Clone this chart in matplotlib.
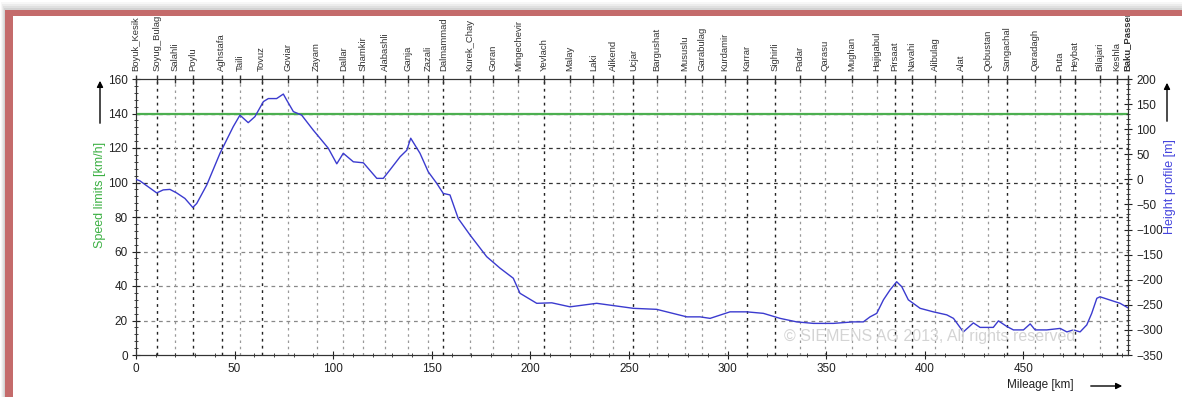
import matplotlib.pyplot as plt
from matplotlib.patches import Rectangle
from matplotlib.transforms import blended_transform_factory, Bbox, TransformedBbox
from matplotlib.ticker import MultipleLocator

plt.rcParams['font.family'] = ['Liberation Sans', 'DejaVu Sans']

# Stations along the line (km) and their names
station_km = [0, 10.5, 19.8, 28.8, 43.5, 52.7, 63.7, 77.2, 91.6, 105.1, 115.3, 126.3,
              138.1, 148.2, 155.8, 169.4, 181.2, 193.9, 206.9, 220.1, 231.9, 242.0,
              252.2, 264.0, 278.4, 286.9, 298.7, 309.7, 324.1, 336.7, 349.4, 362.9,
              375.6, 384.9, 393.4, 405.2, 418.7, 432.2, 441.5, 455.9, 468.6, 476.2,
              488.8, 497.3, 503.0]
station_names = ['Boyuk_Kesik', 'Soyug_Bulag', 'Salahli', 'Poylu', 'Aghstafa', 'Taili',
                 'Tovuz', 'Goviar', 'Zayam', 'Dallar', 'Shamkir', 'Alabashli', 'Ganja',
                 'Zazali', 'Dalmammad', 'Kurek_Chay', 'Goran', 'Mingechevir', 'Yevlach',
                 'Malay', 'Laki', 'Alikend', 'Ucjar', 'Bargushat', 'Mususlu', 'Garabulag',
                 'Kurdamir', 'Karrar', 'Sighirli', 'Padar', 'Qarasu', 'Mughan', 'Hajigabul',
                 'Pirsaat', 'Navahi', 'Alibulag', 'Alat', 'Qobustan', 'Sangachal',
                 'Qaradagh', 'Puta', 'Heybat', 'Bilajari', 'Keshla', 'Baku_Passenger']
# darker dotted line for the bigger stations
station_dark = [1, 1, 0, 1, 1, 0, 1, 0, 0, 0, 0, 0, 0, 0, 1, 0, 0, 0, 1, 0, 0, 0,
                1, 0, 0, 0, 0, 1, 1, 0, 0, 0, 0, 1, 1, 0, 0, 0, 1, 0, 0, 1, 0, 1, 1]

# Height profile (km, m)
profile_km = [0, 2, 10.5, 13.8, 17.2, 20.6, 24.8, 28.8, 30.8, 35.9, 42.6, 49.3, 52.7,
              56.9, 60.3, 64.6, 67.1, 71.3, 74.7, 76.4, 79.8, 84.0, 89.9, 93.3, 97.5,
              101.8, 105.1, 110.2, 115.3, 122.1, 125.4, 128.8, 133.9, 137.3, 139.3, 144.0,
              148.2, 152.5, 155.8, 159.2, 163.4, 169.4, 177.8, 184.6, 191.3, 194.7, 203.2,
              210.8, 220.1, 233.6, 252.2, 264.0, 279.3, 286.0, 291.1, 301.2, 309.7, 318.1,
              326.6, 335.0, 343.5, 353.6, 363.7, 368.8, 372.2, 375.6, 379.0, 382.4, 385.7,
              388.3, 391.6, 397.6, 404.3, 411.1, 414.5, 419.5, 424.6, 428.0, 434.7, 437.3,
              441.5, 444.9, 450.0, 453.4, 455.9, 461.8, 468.6, 472.0, 475.3, 478.7, 482.1,
              484.6, 487.2, 488.8, 499.0, 503.0]
profile_m = [0, -3, -27, -21, -20, -27, -38, -56, -48, -11, 52, 105, 128,
             113, 125, 155, 161, 161, 170, 158, 135, 128, 98, 82, 62,
             31, 52, 35, 33, 2, 2, 19, 45, 58, 82, 52,
             15, -8, -28, -31, -78, -111, -154, -177, -197, -227, -247,
             -246, -254, -247, -257, -259, -274, -274, -277, -264, -264, -267,
             -277, -284, -287, -287, -284, -284, -274, -267, -240, -220, -204,
             -214, -240, -257, -264, -270, -277, -304, -286, -295, -295, -282,
             -293, -300, -300, -288, -300, -300, -297, -304, -300, -304, -290,
             -267, -237, -234, -247, -256]

speed_km = [0, 503]
speed_limit = [140, 140]

W, H = 1182, 397
fig = plt.figure(figsize=(W / 100, H / 100), dpi=100)

def frect(x0, y0, w, h, **kw):
    # rectangle in pixel coordinates measured from the top-left corner
    fig.patches.append(Rectangle((x0 / W, 1 - (y0 + h) / H), w / W, h / H,
                                 transform=fig.transFigure, edgecolor='none', **kw))

# soft shadow behind the frame, then the red frame (top and left only are visible)
for i, a in enumerate([0.06, 0.08, 0.1, 0.12]):
    frect(1 + i, 2 + 2 * i, W, H, facecolor='#777777', alpha=a, zorder=-6)
frect(5, 10, W, H, facecolor='#c46b6b', zorder=-5)
frect(13, 16, W, H, facecolor='white', zorder=-4)

ax = fig.add_axes([136 / W, 1 - 355 / H, 992 / W, 276 / H])
ax.set_facecolor('none')
ax.set_xlim(0, 503)
ax.set_ylim(0, 160)

# grid
for y in range(20, 160, 20):
    ax.axhline(y, color='#333333' if y >= 80 else '#888888', lw=0.9, ls=(0, (3, 3)), zorder=1)
for km, d in zip(station_km[1:-1], station_dark[1:-1]):
    ax.axvline(km, color='#222222' if d else '#999999', lw=1.0 if d else 0.9,
               ls=(0, (2, 3)), zorder=1)

ax.plot(speed_km, speed_limit, color='#4caf50', lw=1.6, zorder=3)

ax2 = ax.twinx()
ax2.set_ylim(-350, 200)
ax2.plot(profile_km, profile_m, color='#3b3bcf', lw=1.0, zorder=4)

ax.set_xticks(range(0, 451, 50))
ax.xaxis.set_minor_locator(MultipleLocator(10))
ax.yaxis.set_major_locator(MultipleLocator(20))
ax.yaxis.set_minor_locator(MultipleLocator(4))
ax2.yaxis.set_major_locator(MultipleLocator(50))
ax2.yaxis.set_minor_locator(MultipleLocator(10))
for a in (ax, ax2):
    a.tick_params(which='major', direction='inout', length=6, width=0.8, labelsize=8.5,
                  colors='#222222', pad=3)
    a.tick_params(which='minor', direction='inout', length=3, width=0.6, colors='#222222')
    for s in a.spines.values():
        s.set_color('#333333')
        s.set_linewidth(0.8)

# station names above the chart, cut off by the frame
clip = TransformedBbox(Bbox([[0, 0], [1, 1 - 16 / H]]), fig.transFigure)
trans = blended_transform_factory(ax.transData, ax.transAxes)
for km, name in zip(station_km, station_names):
    t = ax.text(km, 1.03, name, transform=trans, rotation=90, ha='center', va='bottom',
                fontsize=6.8, color='#333333',
                fontweight='bold' if name == 'Baku_Passenger' else 'normal')
    t.set_clip_on(True)
    t.set_clip_box(clip)
ax.plot(station_km, [160] * len(station_km), ls='none', marker='|', ms=6, color='#333333',
        clip_on=False, zorder=5)

# axis titles and arrows
fig.text(100 / W, 1 - 195 / H, 'Speed limits [km/h]', rotation=90, ha='center', va='center',
         color='#3cb043', fontsize=9)
fig.text(1170 / W, 1 - 187 / H, 'Height profile [m]', rotation=90, ha='center', va='center',
         color='#4444dd', fontsize=9)
fig.text(1040 / W, 1 - 385 / H, 'Mileage [km]', ha='center', va='center', color='#222222',
         fontsize=8.5)
arrow = dict(arrowstyle='-|>', color='black', lw=1, mutation_scale=9)
ax.annotate('', xy=(100 / W, 1 - 78 / H), xytext=(100 / W, 1 - 126 / H),
            xycoords='figure fraction', arrowprops=arrow)
ax.annotate('', xy=(1167 / W, 1 - 80 / H), xytext=(1167 / W, 1 - 124 / H),
            xycoords='figure fraction', arrowprops=arrow)
ax.annotate('', xy=(1125 / W, 1 - 386 / H), xytext=(1088 / W, 1 - 386 / H),
            xycoords='figure fraction', arrowprops=arrow)

fig.text(930 / W, 1 - 337 / H, '© SIEMENS AG 2013, All rights reserved', ha='center',
         va='center', color='#d4d4d4', fontsize=11.5, zorder=0)

fig.savefig('out.png', dpi=100)
